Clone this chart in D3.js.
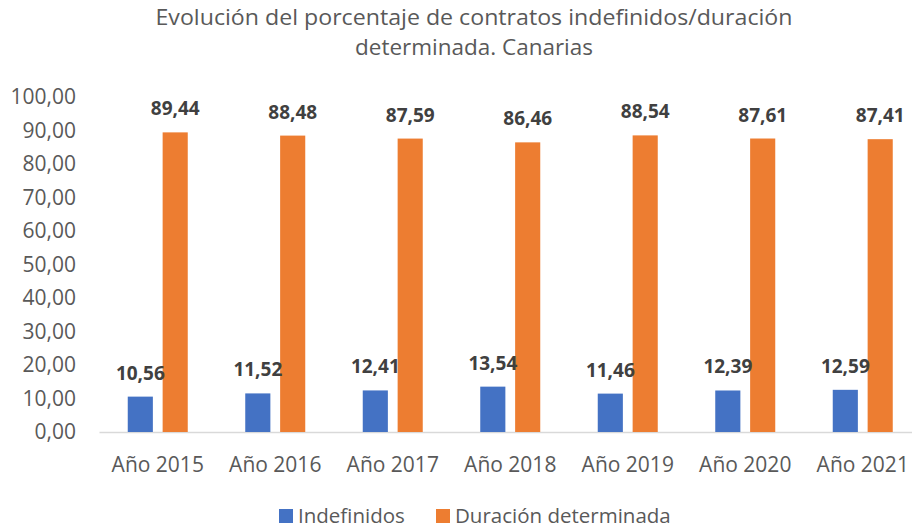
<!DOCTYPE html>
<html>
<head>
<meta charset="utf-8">
<script src="https://cdn.jsdelivr.net/npm/d3@7"></script>
<style>
  body { margin: 0; background: #fff; }
  svg text { font-family: "Open Sans", sans-serif; }
</style>
</head>
<body>
<svg width="912" height="530"></svg>
<script>
var years = ["Año 2015", "Año 2016", "Año 2017", "Año 2018", "Año 2019", "Año 2020", "Año 2021"];
var indefinidos = [10.56, 11.52, 12.41, 13.54, 11.46, 12.39, 12.59];
var determinada = [89.44, 88.48, 87.59, 86.46, 88.54, 87.61, 87.41];
var seriesNames = ["Indefinidos", "Duración determinada"];
var yTicks = [0, 10, 20, 30, 40, 50, 60, 70, 80, 90, 100];

var BlueColor = "#4472C4";
var OrangeColor = "#ED7D31";
var TextColor = "#595959";
var LabelColor = "#404040";

var svg = d3.select("svg");
var fmt = function (v) { return d3.format(".2f")(v).replace(".", ","); };

var x = d3.scaleBand().domain(years).range([99, 921.5]);
var y = d3.scaleLinear().domain([0, 100]).range([432, 97]);

var rows = years.map(function (d, i) {
    return { year: d, vals: [indefinidos[i], determinada[i]] };
});

// title
var title = svg.append("text")
    .attr("text-anchor", "middle")
    .attr("fill", TextColor)
    .style("font-size", "21px");
title.append("tspan").attr("x", 474).attr("y", 25)
    .text("Evolución del porcentaje de contratos indefinidos/duración")
    .attr("textLength", 637).attr("lengthAdjust", "spacingAndGlyphs");
title.append("tspan").attr("x", 474).attr("y", 55)
    .text("determinada. Canarias")
    .attr("textLength", 238).attr("lengthAdjust", "spacingAndGlyphs");

// y axis labels
var yAxis = svg.append("g")
    .attr("transform", "translate(90,0)")
    .call(d3.axisLeft(y).tickValues(yTicks).tickFormat(fmt).tickSize(0).tickPadding(14));
yAxis.select(".domain").remove();
yAxis.selectAll("text")
    .attr("fill", TextColor)
    .style("font-size", "21px")
    .style("font-family", "'Open Sans', sans-serif");

// x axis
var xAxis = svg.append("g")
    .attr("transform", "translate(0,432)")
    .call(d3.axisBottom(x).tickSize(0).tickPadding(25));
xAxis.select(".domain").attr("stroke", "#d9d9d9").attr("stroke-width", 1.5);
xAxis.selectAll("text")
    .attr("fill", TextColor)
    .style("font-size", "21px")
    .style("font-family", "'Open Sans', sans-serif");

// bars
var inner = d3.scaleBand().domain([0, 1]).range([-30, 30]).paddingInner(0.28);
var colors = [BlueColor, OrangeColor];

var group = svg.append("g").selectAll("g")
    .data(rows)
    .enter().append("g")
    .attr("transform", function (d) { return "translate(" + (x(d.year) + x.bandwidth() / 2) + ",0)"; });

group.selectAll("rect")
    .data(function (d) { return d.vals; })
    .enter().append("rect")
    .attr("x", function (d, i) { return inner(i); })
    .attr("width", inner.bandwidth())
    .attr("y", function (d) { return y(d); })
    .attr("height", function (d) { return y(0) - y(d); })
    .attr("fill", function (d, i) { return colors[i]; });

group.selectAll("text")
    .data(function (d) { return d.vals; })
    .enter().append("text")
    .attr("x", function (d, i) { return inner(i) + inner.bandwidth() / 2; })
    .attr("y", function (d) { return y(d) - 17; })
    .attr("text-anchor", "middle")
    .attr("fill", LabelColor)
    .style("font-size", "19px")
    .style("font-weight", "bold")
    .text(fmt);

// legend
var legend = svg.append("g").attr("transform", "translate(0,516)");
var lx = [279, 436];
seriesNames.forEach(function (name, i) {
    legend.append("rect")
        .attr("x", lx[i]).attr("y", -7)
        .attr("width", 14).attr("height", 14)
        .attr("fill", colors[i]);
    legend.append("text")
        .attr("x", lx[i] + 19).attr("y", 7)
        .attr("fill", TextColor)
        .style("font-size", "20.5px")
        .text(name);
});
</script>
</body>
</html>
